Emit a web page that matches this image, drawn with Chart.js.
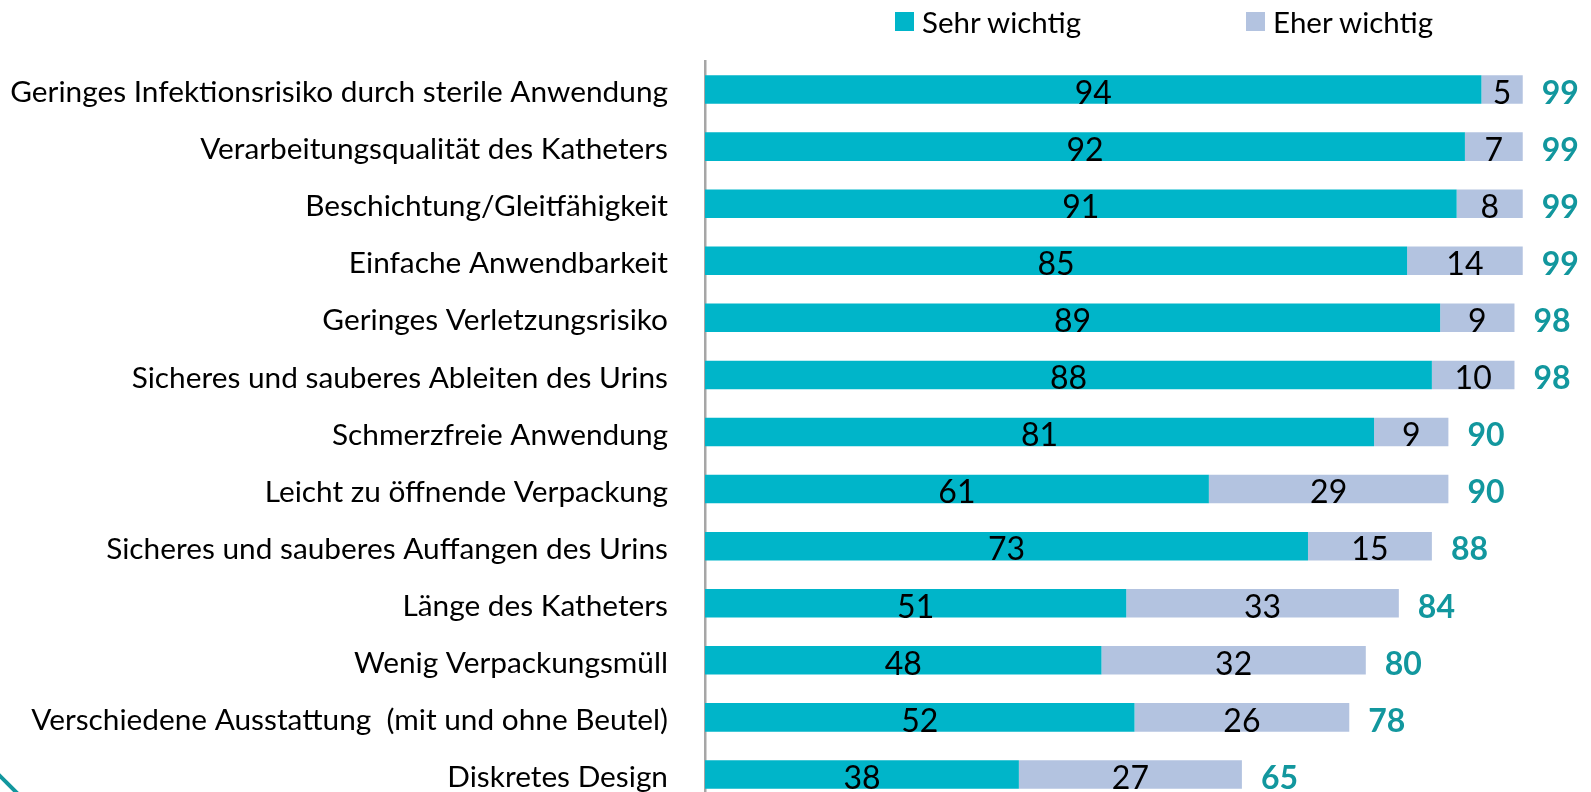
<!DOCTYPE html>
<html>
<head>
<meta charset="utf-8">
<script src="https://cdn.jsdelivr.net/npm/chart.js@4"></script>
<style>
  html, body { margin: 0; padding: 0; background: #fff; overflow: hidden; }
  #wrap { position: relative; width: 1591px; height: 803px; }
  canvas { display: block; }
  .leg { position: absolute; top: 4px; font-family: Lato, sans-serif; font-size: 29.5px; color: #000; display: flex; align-items: center; }
  .leg span.box { display: inline-block; width: 19px; height: 19px; margin-right: 8px; }
  #deco { position: absolute; left: -8px; top: 781px; width: 30px; height: 4px; background: #12979e; transform: rotate(45deg); }
</style>
</head>
<body>
<div id="wrap">
  <canvas id="prioChart" width="1591" height="803" style="width:1591px;height:803px"></canvas>
  <div class="leg" style="left:895px"><span class="box" style="background:#00b5c9"></span>Sehr wichtig</div>
  <div class="leg" style="left:1246px"><span class="box" style="background:#b3c3e0"></span>Eher wichtig</div>
  <div id="deco"></div>
</div>
<script>
const labels = [
  'Geringes Infektionsrisiko durch sterile Anwendung',
  'Verarbeitungsqualität des Katheters',
  'Beschichtung/Gleitfähigkeit',
  'Einfache Anwendbarkeit',
  'Geringes Verletzungsrisiko',
  'Sicheres und sauberes Ableiten des Urins',
  'Schmerzfreie Anwendung',
  'Leicht zu öffnende Verpackung',
  'Sicheres und sauberes Auffangen des Urins',
  'Länge des Katheters',
  'Wenig Verpackungsmüll',
  'Verschiedene Ausstattung  (mit und ohne Beutel)',
  'Diskretes Design'
];
const sehrWichtig = [94, 92, 91, 85, 89, 88, 81, 61, 73, 51, 48, 52, 38];
const eherWichtig = [5, 7, 8, 14, 9, 10, 9, 29, 15, 33, 32, 26, 27];
const totals = [99, 99, 99, 99, 98, 98, 90, 90, 88, 84, 80, 78, 65];

// labels inside bars + totals to the right
const valueLabels = {
  id: 'valueLabels',
  afterDatasetsDraw(chart) {
    const ctx = chart.ctx;
    ctx.save();
    ctx.textBaseline = 'middle';
    chart.data.datasets.forEach((ds, di) => {
      chart.getDatasetMeta(di).data.forEach((bar, i) => {
        ctx.font = '32px Lato, sans-serif';
        ctx.fillStyle = '#000';
        ctx.textAlign = 'center';
        ctx.fillText(ds.data[i], (bar.base + bar.x) / 2, bar.y + 4);
      });
    });
    chart.getDatasetMeta(1).data.forEach((bar, i) => {
      ctx.font = 'bold 32px Lato, sans-serif';
      ctx.fillStyle = '#12979e';
      ctx.textAlign = 'left';
      ctx.fillText(totals[i], bar.x + 19, bar.y + 4);
    });
    ctx.restore();
  }
};

const ctx = document.getElementById('prioChart').getContext('2d');
const prioChart = new Chart(ctx, {
  type: 'bar',
  data: {
    labels: labels,
    datasets: [{
      label: 'Sehr wichtig',
      data: sehrWichtig,
      backgroundColor: '#00b5c9',
      barPercentage: 0.5,
      categoryPercentage: 1
    }, {
      label: 'Eher wichtig',
      data: eherWichtig,
      backgroundColor: '#b3c3e0',
      barPercentage: 0.5,
      categoryPercentage: 1
    }]
  },
  options: {
    indexAxis: 'y',
    responsive: false,
    maintainAspectRatio: false,
    animation: false,
    layout: { padding: { top: 61, right: 60, left: 0, bottom: 0 } },
    plugins: { legend: { display: false }, tooltip: { enabled: false } },
    scales: {
      x: {
        stacked: true, min: 0, max: 100, display: false
      },
      y: {
        stacked: true,
        afterFit: s => { s.width = 705; },
        // invisible tick marks give the gap, negative padding keeps the last row at the edge
        grid: { display: true, drawOnChartArea: false, drawTicks: true, tickLength: 55, color: 'rgba(0,0,0,0)' },
        border: { color: '#a6a6a6', width: 2.5 },
        ticks: {
          color: '#000',
          padding: -18,
          labelOffset: 3,
          autoSkip: false,
          font: { family: 'Lato, sans-serif', size: 29.8 }
        }
      }
    }
  },
  plugins: [valueLabels]
});
</script>
</body>
</html>
